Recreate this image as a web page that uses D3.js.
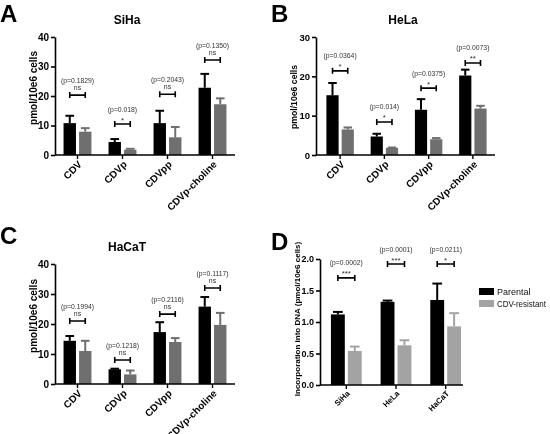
<!DOCTYPE html>
<html><head><meta charset="utf-8">
<script src="https://cdn.jsdelivr.net/npm/d3@7"></script>
<style>
body{margin:0;background:#fff;}
svg{filter:grayscale(1);}
svg text{font-family:"Liberation Sans",Arial,sans-serif;}
</style></head>
<body><svg id="c" width="550" height="434"></svg>
<script>
// ---------- data ----------
const drugs = ["CDV", "CDVp", "CDVpp", "CDVp-choline"];

const sihaParental = [10.8, 4.4, 10.8, 22.8];
const sihaParentalErr = [2.5, 1.0, 4.2, 4.7];
const sihaResistant = [7.9, 1.8, 6.0, 17.2];
const sihaResistantErr = [1.2, 0.3, 3.5, 2.0];
const sihaP = ["(p=0.1829)", "(p=0.018)", "(p=0.2043)", "(p=0.1350)"];
const sihaSig = ["ns", "*", "ns", "ns"];
const sihaBracket = [20.3, 10.5, 20.6, 32.2];

const helaParental = [15.2, 4.7, 11.5, 20.2];
const helaParentalErr = [3.1, 0.7, 2.7, 1.5];
const helaResistant = [6.5, 1.8, 4.0, 11.8];
const helaResistantErr = [0.5, 0.1, 0.3, 0.7];
const helaP = ["(p=0.0364)", "(p=0.014)", "(p=0.0375)", "(p=0.0073)"];
const helaSig = ["*", "*", "*", "**"];
const helaBracket = [21.4, 8.4, 17.0, 23.4];

const hacatParental = [14.4, 4.9, 17.3, 25.8];
const hacatParentalErr = [1.6, 0.2, 3.3, 3.2];
const hacatResistant = [11.0, 3.2, 14.0, 19.7];
const hacatResistantErr = [3.4, 1.3, 1.3, 4.0];
const hacatP = ["(p=0.1994)", "(p=0.1218)", "(p=0.2116)", "(p=0.1117)"];
const hacatSig = ["ns", "ns", "ns", "ns"];
const hacatBracket = [21.0, 8.0, 23.3, 32.0];

const cellLines = ["SiHa", "HeLa", "HaCaT"];
const dnaParental = [1.12, 1.32, 1.35];
const dnaParentalErr = [0.04, 0.02, 0.26];
const dnaResistant = [0.54, 0.63, 0.93];
const dnaResistantErr = [0.07, 0.08, 0.21];
const dnaP = ["(p=0.0002)", "(p=0.0001)", "(p=0.0211)"];
const dnaSig = ["***", "***", "*"];
const dnaBracket = [1.70, 1.92, 1.92];

const seriesNames = ["Parental", "CDV-resistant"];
const ticks40 = [0, 10, 20, 30, 40];
const ticks30 = [0, 10, 20, 30];
const ticksDna = [0, 0.5, 1.0, 1.5, 2.0];

// ---------- drawing ----------
const svg = d3.select("#c");

function panel(o) {
  const g = svg.append("g");
  const x = d3.scaleBand().domain(o.cats).range(o.xr).paddingInner(o.pi).paddingOuter(o.po);
  const sub = d3.scaleBand().domain([0, 1]).range([0, x.bandwidth()]).paddingInner(o.gap);
  const y = d3.scaleLinear().domain(o.yd).range(o.yr);
  const cols = [o.c0, o.c1];
  const vals = [o.v0, o.v1], errs = [o.e0, o.e1];

  [0, 1].forEach(s => {
    const gs = g.append("g");
    o.cats.forEach((c, i) => {
      const bx = x(c) + sub(s), bw = sub.bandwidth();
      gs.append("rect").attr("x", bx).attr("y", y(vals[s][i]))
        .attr("width", bw).attr("height", y(0) - y(vals[s][i])).attr("fill", cols[s]);
      const top = y(vals[s][i] + errs[s][i]);
      const cx = bx + bw / 2;
      gs.append("line").attr("x1", cx).attr("x2", cx).attr("y1", y(vals[s][i])).attr("y2", top)
        .attr("stroke", cols[s]).attr("stroke-width", 2);
      gs.append("line").attr("x1", cx - bw * 0.35).attr("x2", cx + bw * 0.35).attr("y1", top).attr("y2", top)
        .attr("stroke", cols[s]).attr("stroke-width", 2);
    });
  });

  const ya = g.append("g").attr("transform", `translate(${o.ax},0)`)
    .call(d3.axisLeft(y).tickValues(o.ticks).tickSize(4).tickSizeOuter(0).tickPadding(2)
      .tickFormat(o.fmt));
  ya.select(".domain").attr("stroke-width", 1.6);
  ya.selectAll(".tick line").attr("stroke-width", 1.6);
  ya.selectAll("text").attr("font-size", o.tfs).attr("font-weight", "bold").attr("fill", "#000")
    .attr("font-family", "'Liberation Sans',Arial,sans-serif");

  const xa = g.append("g").attr("transform", `translate(0,${y(0)})`)
    .call(d3.axisBottom(x).tickSize(4).tickSizeOuter(0));
  xa.select(".domain").attr("stroke-width", 1.6).attr("d", `M${o.ax},0H${o.xEnd}`);
  xa.selectAll(".tick line").attr("stroke-width", 1.4);
  xa.selectAll("text").attr("font-size", o.xfs).attr("font-weight", "bold").attr("fill", "#000")
    .attr("font-family", "'Liberation Sans',Arial,sans-serif")
    .attr("text-anchor", "end").attr("dy", null).attr("y", 0)
    .attr("transform", `translate(${o.xoff[0]},${o.xoff[1]}) rotate(-45)`);

  o.cats.forEach((c, i) => {
    const x0 = x(c) + sub(0) + sub.bandwidth() / 2;
    const x1 = x(c) + sub(1) + sub.bandwidth() / 2;
    const by = y(o.br[i]);
    const star = o.sig[i].startsWith("*");
    g.append("path").attr("d", `M${x0},${by - 3}V${by + 3}M${x0},${by}H${x1}M${x1},${by - 3}V${by + 3}`)
      .attr("stroke", "#000").attr("stroke-width", 1.6).attr("fill", "none");
    g.append("text").attr("x", (x0 + x1) / 2).attr("y", star ? by - 1.5 : by - 5).attr("text-anchor", "middle")
      .attr("font-size", star ? 8 : 7).attr("fill", "#333").text(o.sig[i]);
    g.append("text").attr("x", (x0 + x1) / 2).attr("y", by - 12.5).attr("text-anchor", "middle")
      .attr("font-size", 6.8).attr("fill", "#333").text(o.p[i]);
  });

  g.append("text").attr("transform", `translate(${o.ylx},${o.yly}) rotate(-90)`)
    .attr("text-anchor", "middle").attr("font-size", o.ylfs).attr("font-weight", "bold").text(o.ylab);
  if (o.title) g.append("text").attr("x", o.tx).attr("y", o.ty).attr("text-anchor", "middle")
    .attr("font-size", 12).attr("font-weight", "bold").text(o.title);
  g.append("text").attr("x", o.lx).attr("y", o.ly).attr("font-size", 24).attr("font-weight", "bold")
    .attr("font-family", "'Open Sans','Noto Sans',sans-serif").text(o.letter);
}

const grey = "#6f6f6f", black = "#000", light = "#a3a3a3";
const fmt0 = d3.format("d"), fmt1 = d3.format(".1f");

panel({cats: drugs, ax: 55, xr: [55, 235], xEnd: 235, pi: 0.38, po: 0.19, gap: 0.2,
  yd: [0, 40], yr: [155, 37], ticks: ticks40, fmt: fmt0, tfs: 10,
  v0: sihaParental, e0: sihaParentalErr, v1: sihaResistant, e1: sihaResistantErr,
  c0: black, c1: grey, br: sihaBracket, sig: sihaSig, p: sihaP,
  xfs: 10, xoff: [5, 10], ylab: "pmol/10e6 cells", ylx: 37, yly: 88, ylfs: 10,
  title: "SiHa", tx: 127, ty: 24, letter: "A", lx: 0, ly: 22});

panel({cats: drugs, ax: 316, xr: [318, 495], xEnd: 495, pi: 0.38, po: 0.19, gap: 0.2,
  yd: [0, 30], yr: [155, 37], ticks: ticks30, fmt: fmt0, tfs: 9.5,
  v0: helaParental, e0: helaParentalErr, v1: helaResistant, e1: helaResistantErr,
  c0: black, c1: grey, br: helaBracket, sig: helaSig, p: helaP,
  xfs: 10, xoff: [5, 10], ylab: "pmol/10e6 cells", ylx: 297, yly: 97, ylfs: 8.7,
  title: "HeLa", tx: 403, ty: 24, letter: "B", lx: 271, ly: 22});

panel({cats: drugs, ax: 55, xr: [55, 235], xEnd: 235, pi: 0.38, po: 0.19, gap: 0.2,
  yd: [0, 40], yr: [384, 264], ticks: ticks40, fmt: fmt0, tfs: 10,
  v0: hacatParental, e0: hacatParentalErr, v1: hacatResistant, e1: hacatResistantErr,
  c0: black, c1: grey, br: hacatBracket, sig: hacatSig, p: hacatP,
  xfs: 10, xoff: [5, 10], ylab: "pmol/10e6 cells", ylx: 37, yly: 316, ylfs: 10,
  title: "HaCaT", tx: 127, ty: 251, letter: "C", lx: 0, ly: 244});

panel({cats: cellLines, ax: 320, xr: [320, 472], xEnd: 463, pi: 0.38, po: 0.22, gap: 0.18,
  yd: [0, 2], yr: [385, 259], ticks: ticksDna, fmt: fmt1, tfs: 9,
  v0: dnaParental, e0: dnaParentalErr, v1: dnaResistant, e1: dnaResistantErr,
  c0: black, c1: light, br: dnaBracket, sig: dnaSig, p: dnaP,
  xfs: 8, xoff: [4, 9], ylab: "Incorporation into DNA (pmol/10e6 cells)", ylx: 300, yly: 319, ylfs: 8,
  title: null, letter: "D", lx: 271, ly: 250});

const leg = svg.append("g");
[black, light].forEach((c, i) => {
  leg.append("rect").attr("x", 479).attr("y", 288 + i * 12).attr("width", 15).attr("height", 7).attr("fill", c);
  leg.append("text").attr("x", 497).attr("y", 295 + i * 12).attr("font-size", 9).attr("fill", "#111")
    .attr("textLength", i ? 49 : null).attr("lengthAdjust", "spacingAndGlyphs").text(seriesNames[i]);
});
</script></body></html>
